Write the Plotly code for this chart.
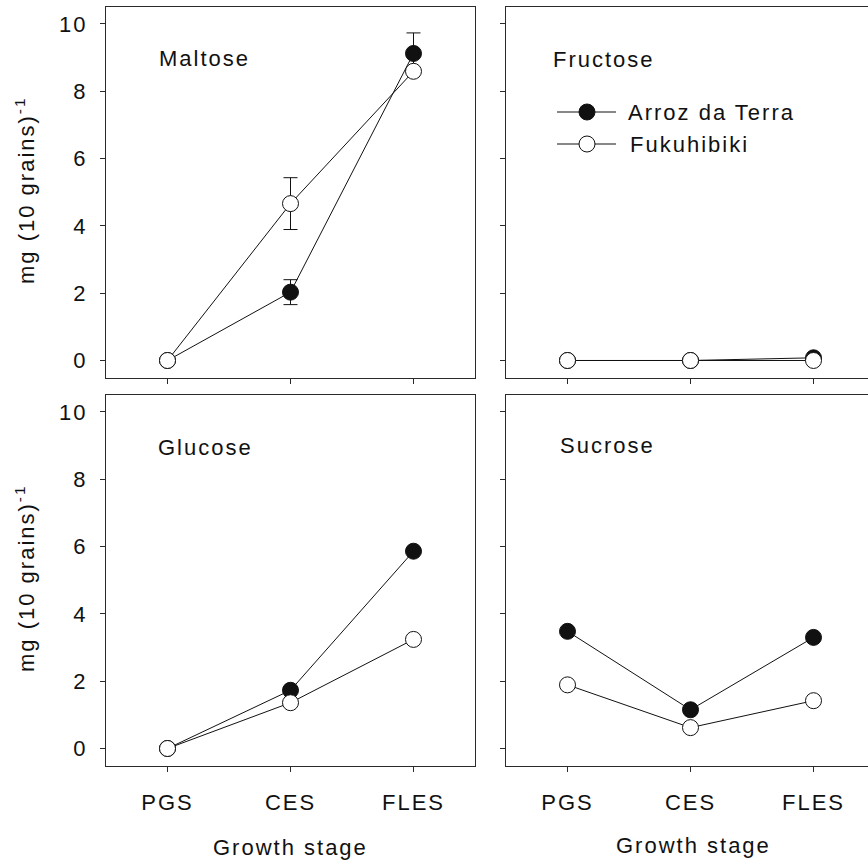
import plotly.graph_objects as go

# Growth stages on the x axis
stages = ["PGS", "CES", "FLES"]
cultivars = ["Arroz da Terra", "Fukuhibiki"]

# Sugar content, mg (10 grains)^-1
maltose_arroz = [0.0, 2.03, 9.12]
maltose_fuku = [0.0, 4.66, 8.59]
maltose_arroz_err = [0.0, 0.37, 0.61]
maltose_fuku_err = [0.0, 0.77, 0.0]

fructose_arroz = [0.0, 0.0, 0.08]
fructose_fuku = [0.0, 0.0, 0.0]

glucose_arroz = [0.0, 1.73, 5.86]
glucose_fuku = [0.0, 1.36, 3.24]

sucrose_arroz = [3.48, 1.15, 3.30]
sucrose_fuku = [1.89, 0.62, 1.42]

y_ticks = [0, 2, 4, 6, 8, 10]

W, H = 868, 862
FONT = "Liberation Sans, Arial, sans-serif"
FS = 22
INK = "#111111"
AXC = "#2a2a2a"


def px(x):
    return x / W


def py(y):
    return 1 - y / H


fig = go.Figure()

panels = [
    # (xaxis, yaxis, arroz, fuku, arroz_err, fuku_err)
    ("x", "y", maltose_arroz, maltose_fuku, maltose_arroz_err, maltose_fuku_err),
    ("x2", "y2", fructose_arroz, fructose_fuku, None, None),
    ("x3", "y3", glucose_arroz, glucose_fuku, None, None),
    ("x4", "y4", sucrose_arroz, sucrose_fuku, None, None),
]

for xa, ya, arroz, fuku, aerr, ferr in panels:
    for vals, err, fill in ((arroz, aerr, INK), (fuku, ferr, "white")):
        fig.add_trace(go.Scatter(
            x=stages, y=vals, xaxis=xa, yaxis=ya,
            mode="lines+markers", showlegend=False,
            line=dict(color=INK, width=1),
            marker=dict(size=16, color=fill, line=dict(color=INK, width=1)),
            error_y=(dict(type="data", array=err, visible=True, color=INK,
                          thickness=1, width=7) if err is not None else None),
        ))

# Panel placement (paper fractions)
xl = [px(106), px(475)]
xr = [px(506), 1.0]
yt = [py(378), py(7)]
yb = [py(766), py(395)]


def xaxis_cfg(domain, anchor, labels, rng):
    return dict(
        domain=domain, anchor=anchor, type="category", range=rng,
        showline=True, mirror=True, linecolor=AXC, linewidth=1,
        ticks="outside", ticklen=5, tickcolor=AXC, tickwidth=1,
        showticklabels=labels, ticklabelstandoff=12,
        tickfont=dict(family=FONT, size=FS, color=INK),
        showgrid=False, zeroline=False, fixedrange=True,
    )


def yaxis_cfg(domain, anchor, labels, mirror):
    return dict(
        domain=domain, anchor=anchor, range=[-0.52, 10.5],
        tickvals=y_ticks, showline=True, mirror=mirror,
        linecolor=AXC, linewidth=1,
        ticks="outside", ticklen=5, tickcolor=AXC, tickwidth=1,
        showticklabels=labels, ticklabelstandoff=8,
        tickfont=dict(family=FONT, size=FS, color=INK),
        showgrid=False, zeroline=False, fixedrange=True,
    )


left_rng = [-0.5, 2.5]
right_rng = [-0.5, -0.5 + (868 - 506) / ((475 - 106) / 3)]

fig.update_layout(
    width=W, height=H,
    margin=dict(l=0, r=0, t=0, b=0),
    paper_bgcolor="white", plot_bgcolor="white",
    font=dict(family=FONT, size=FS, color=INK),
    xaxis=xaxis_cfg(xl, "y", False, left_rng),
    yaxis=yaxis_cfg(yt, "x", True, True),
    xaxis2=xaxis_cfg(xr, "y2", False, right_rng),
    yaxis2=yaxis_cfg(yt, "x2", False, False),
    xaxis3=xaxis_cfg(xl, "y3", True, left_rng),
    yaxis3=yaxis_cfg(yb, "x3", True, True),
    xaxis4=xaxis_cfg(xr, "y4", True, right_rng),
    yaxis4=yaxis_cfg(yb, "x4", False, False),
)

annotations = []


def label(text, x, y, angle=0):
    annotations.append(dict(
        text=text, x=px(x), y=py(y), xref="paper", yref="paper",
        xanchor="center", yanchor="middle", showarrow=False, textangle=angle,
        font=dict(family=FONT, size=FS, color=INK),
    ))


# Panel names
label("Maltose", 204, 58)
label("Fructose", 604, 60)
label("Glucose", 205, 447)
label("Sucrose", 607, 445)

# Axis titles
ytitle = "mg (10 grains)<sup>-1</sup>"
label(ytitle, 25, 190, -90)
label(ytitle, 25, 578, -90)
label("Growth stage", 290, 847)
label("Growth stage", 693, 845)

# Legend text
label(cultivars[0], 712, 112)
label(cultivars[1], 689, 144)

fig.update_layout(annotations=annotations)

# Legend glyphs
shapes = []
for yy, fill in ((112, INK), (144, "white")):
    shapes.append(dict(type="line", xref="paper", yref="paper",
                       x0=px(557), x1=px(616), y0=py(yy), y1=py(yy),
                       line=dict(color=INK, width=1)))
    shapes.append(dict(type="circle", xref="paper", yref="paper",
                       xsizemode="pixel", ysizemode="pixel",
                       xanchor=px(587), yanchor=py(yy),
                       x0=-8, x1=8, y0=-8, y1=8,
                       fillcolor=fill, line=dict(color=INK, width=1)))
fig.update_layout(shapes=shapes)

# Wider tracking on all chart text
tracking = ("var st=document.createElement('style');"
            "st.textContent='.js-plotly-plot text{letter-spacing:2px;}';"
            "document.head.appendChild(st);")

fig.write_html("out.html", config={"displayModeBar": False}, post_script=tracking)
